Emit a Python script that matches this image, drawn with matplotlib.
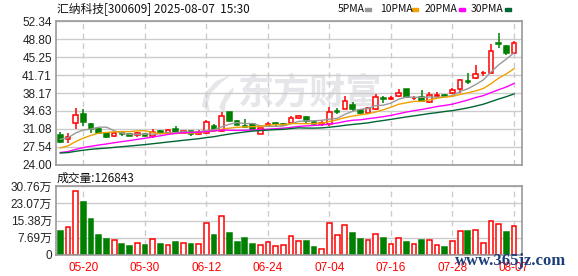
import numpy as np
import pandas as pd
from matplotlib import pyplot as plt
from matplotlib.patches import Rectangle, Polygon

plt.rcParams['font.family'] = ['Liberation Sans', 'Noto Sans CJK SC', 'DejaVu Sans']

# daily candles 05-15 .. 08-07
opens = [29.84, 29.05, 32.27, 33.98, 32.01, 30.96, 30.23, 29.58, 30.30, 29.97,
         29.84, 29.97, 29.58, 30.69, 30.17, 31.08, 30.36, 30.62, 29.97, 30.23,
         31.74, 30.62, 34.37, 32.66, 31.67, 32.07, 30.16, 31.61, 32.20, 32.07,
         32.20, 33.25, 33.35, 32.50, 32.03, 32.03, 34.66, 35.06, 35.85, 34.80,
         34.26, 35.06, 37.11, 36.91, 37.57, 38.95, 37.10, 37.43, 36.32, 37.66,
         37.70, 38.10, 38.89, 40.46, 41.19, 42.05, 42.18, 47.99, 47.46, 46.13]
highs = [30.56, 30.17, 35.29, 34.96, 32.20, 31.35, 30.50, 30.40, 30.35, 30.10,
         30.43, 30.10, 31.15, 30.89, 31.02, 31.55, 30.75, 30.75, 30.89, 32.85,
         32.13, 34.43, 34.37, 32.85, 33.12, 32.20, 31.34, 32.46, 32.53, 32.30,
         33.58, 33.84, 33.61, 32.60, 32.60, 35.45, 35.13, 37.63, 36.44, 34.95,
         35.45, 37.90, 37.60, 37.60, 38.95, 38.95, 37.60, 38.75, 38.42, 38.36,
         37.95, 39.09, 40.93, 42.18, 43.70, 42.57, 47.85, 49.97, 47.66, 48.44]
lows = [28.20, 28.20, 31.15, 31.55, 30.17, 30.04, 29.30, 29.50, 29.64, 29.60,
        29.51, 29.60, 29.25, 29.97, 29.97, 30.23, 30.20, 29.64, 29.90, 30.10,
        30.75, 30.56, 32.53, 31.80, 31.41, 30.90, 30.10, 31.41, 31.74, 31.70,
        32.10, 32.99, 32.17, 32.00, 31.70, 31.57, 33.95, 35.00, 34.66, 34.10,
        34.20, 34.80, 36.10, 36.80, 37.43, 37.30, 36.70, 36.32, 36.12, 37.10,
        37.45, 37.90, 38.10, 39.94, 40.87, 41.58, 41.92, 47.00, 45.62, 45.95]
closes = [28.52, 29.51, 33.85, 32.47, 30.96, 30.30, 29.51, 30.36, 30.04, 29.77,
          30.17, 29.77, 30.50, 30.23, 30.82, 30.43, 30.62, 30.10, 30.42, 32.46,
          30.88, 33.58, 32.72, 31.94, 31.48, 31.01, 31.34, 32.07, 32.00, 31.87,
          33.25, 33.64, 32.56, 32.09, 32.29, 34.40, 34.46, 36.52, 35.06, 34.26,
          35.26, 37.31, 36.91, 37.11, 38.16, 37.37, 37.15, 36.64, 37.70, 37.75,
          37.60, 38.70, 40.67, 40.30, 41.86, 42.18, 46.53, 47.79, 46.01, 47.99]
# closes before the visible window (only used for the moving averages)
prior_closes = [26.5, 26.3, 26.0, 25.8, 26.2, 26.4, 26.1, 25.9, 26.0, 25.8,
                25.6, 25.4, 25.2, 25.5, 25.7, 25.3, 25.4, 25.6, 25.8, 25.5,
                25.3, 25.4, 25.6, 25.5, 26.0, 28.2, 29.0, 29.6, 29.9]

# volume in 万
volumes = [10.65, 12.45, 28.5, 23.7, 16.05, 8.85, 7.05, 6.45, 4.8, 3.9,
           5.1, 4.35, 6.9, 4.8, 4.2, 5.7, 5.1, 4.8, 4.65, 14.1,
           8.85, 17.25, 9.75, 5.7, 7.5, 4.8, 4.2, 5.55, 3.75, 4.2,
           8.25, 6.0, 6.0, 3.45, 2.7, 14.1, 8.7, 13.2, 9.75, 7.05,
           6.45, 9.15, 7.5, 4.8, 7.35, 5.7, 4.8, 6.6, 6.6, 4.35,
           3.45, 6.0, 10.65, 10.65, 11.1, 5.25, 15.15, 13.8, 10.2, 12.6843]
vol_up = [0, 1, 1, 0, 0, 0, 0, 1, 0, 0, 1, 0, 1, 0, 1, 0, 1, 0, 1, 1,
          0, 1, 0, 0, 0, 0, 1, 1, 1, 1, 1, 1, 0, 0, 1, 1, 1, 1, 0, 0,
          1, 1, 0, 1, 1, 0, 1, 0, 1, 1, 0, 1, 1, 0, 1, 1, 1, 1, 0, 1]

date_labels = ['05-20', '05-30', '06-12', '06-24', '07-04', '07-16', '07-28', '08-07']
date_pos = [3, 11, 19, 27, 35, 43, 51, 59]

price_ticks = [24.00, 27.54, 31.08, 34.63, 38.17, 41.71, 45.25, 48.80, 52.34]
vol_ticks = [0, 7.69, 15.38, 23.07, 30.76]
vol_tick_labels = ['0', '7.69万', '15.38万', '23.07万', '30.76万']

ma_periods = [5, 10, 20, 30]
ma_colors = ['#999999', '#f0a000', '#ff00ff', '#006633']

RED = '#ff0000'
GREEN = '#008000'
W, H = 578, 276


def px(xp, yp):
    # figure pixel (from top-left) -> figure fraction
    return (xp / W, 1 - yp / H)


fig = plt.figure(figsize=(W / 100, H / 100), dpi=100)
ax = fig.add_axes([56 / W, 1 - 164.7 / H, 466 / W, 143.4 / H])
axv = fig.add_axes([56 / W, 1 - 254.7 / H, 466 / W, 68.4 / H])

x = np.arange(len(closes))
o = np.array(opens)
c = np.array(closes)
up = c >= o

for a in (ax, axv):
    a.set_xlim(-0.56, 60.04)
    for s in a.spines.values():
        s.set_color('#999999')
        s.set_linewidth(1.2)
    a.tick_params(length=0, labelsize=8.5, colors='#222222', pad=3)
    for p in date_pos:
        a.axvline(p, color='#cccccc', lw=1, ls=(0, (4, 3)), zorder=0.5)

# watermark (logo + name)
wm = '#e6e6ea'
ax.text(0.545, 0.5, '东方财富', transform=ax.transAxes, fontsize=26, fontweight='bold',
        color=wm, ha='center', va='center', family=['Noto Sans CJK SC'], zorder=0.3)
logo1 = [(231, 75), (216, 81), (205, 93), (202, 106), (210, 113),
         (208, 103), (211, 93), (221, 83)]
logo2 = [(234, 87), (225, 95), (219, 107), (224, 113), (226, 103), (233, 92)]
for pts in (logo1, logo2):
    ax.add_patch(Polygon([px(*p) for p in pts], closed=True, transform=fig.transFigure,
                         color=wm, lw=0, zorder=0.3))

# price panel
ax.set_ylim(24.0, 52.34)
ax.set_yticks(price_ticks)
ax.set_yticklabels(['%.2f' % t for t in price_ticks])
ax.set_xticks([])
ax.grid(axis='y', color='#cccccc', lw=1, zorder=0.5)

bw = 0.6
for i in x:
    col = RED if up[i] else GREEN
    ax.vlines(i, lows[i], highs[i], color=col, lw=1.1, zorder=2)
    lo, hi = min(opens[i], closes[i]), max(opens[i], closes[i])
    ax.bar(i, hi - lo, bw, bottom=lo, color='white' if up[i] else GREEN,
           edgecolor=col, lw=1.1, zorder=2.5)

allc = pd.Series(prior_closes + closes)
for n, mc in zip(ma_periods, ma_colors):
    ma = allc.rolling(n).mean().values[len(prior_closes):]
    ax.plot(x, ma, color=mc, lw=1.0, zorder=3)

# volume panel
axv.set_ylim(0, 30.76)
axv.set_yticks(vol_ticks)
axv.set_yticklabels(vol_tick_labels)
axv.grid(axis='y', color='#cccccc', lw=1, zorder=0.5)
for i in x:
    col = RED if vol_up[i] else GREEN
    axv.bar(i, volumes[i], 0.62, color='white' if vol_up[i] else GREEN,
            edgecolor=col, lw=1.1, zorder=2)
axv.set_xticks(date_pos)
axv.set_xticklabels(date_labels)
axv.tick_params(axis='x', colors=RED, pad=5)

# header texts
cjk = ['Noto Sans CJK SC', 'DejaVu Sans']
fig.text(*px(57, 9), '汇纳科技[300609] 2025-08-07  15:30', fontsize=8.5,
         va='center', family=cjk, color='#111111')
fig.text(*px(57, 178), '成交量:126843', fontsize=8.5, va='center',
         family=cjk, color='#111111')

legend_x = [338, 380, 425, 471]
block_x = [365, 412, 459, 505]
for n, mc, lx, bx in zip(ma_periods, ma_colors, legend_x, block_x):
    fig.text(*px(lx, 9), '%dPMA' % n, fontsize=7.5, va='center',
             family=cjk, color='#111111')
    fig.patches.append(Rectangle(px(bx, 10.8), 6 / W, 2.5 / H,
                                 transform=fig.transFigure, color=mc))

fig.text(*px(455, 261), 'www.365jz.com', fontsize=12, fontweight='bold',
         va='center', family=['Liberation Serif'], color='#1c3f7c', zorder=5)

fig.savefig('out.png', dpi=100)
